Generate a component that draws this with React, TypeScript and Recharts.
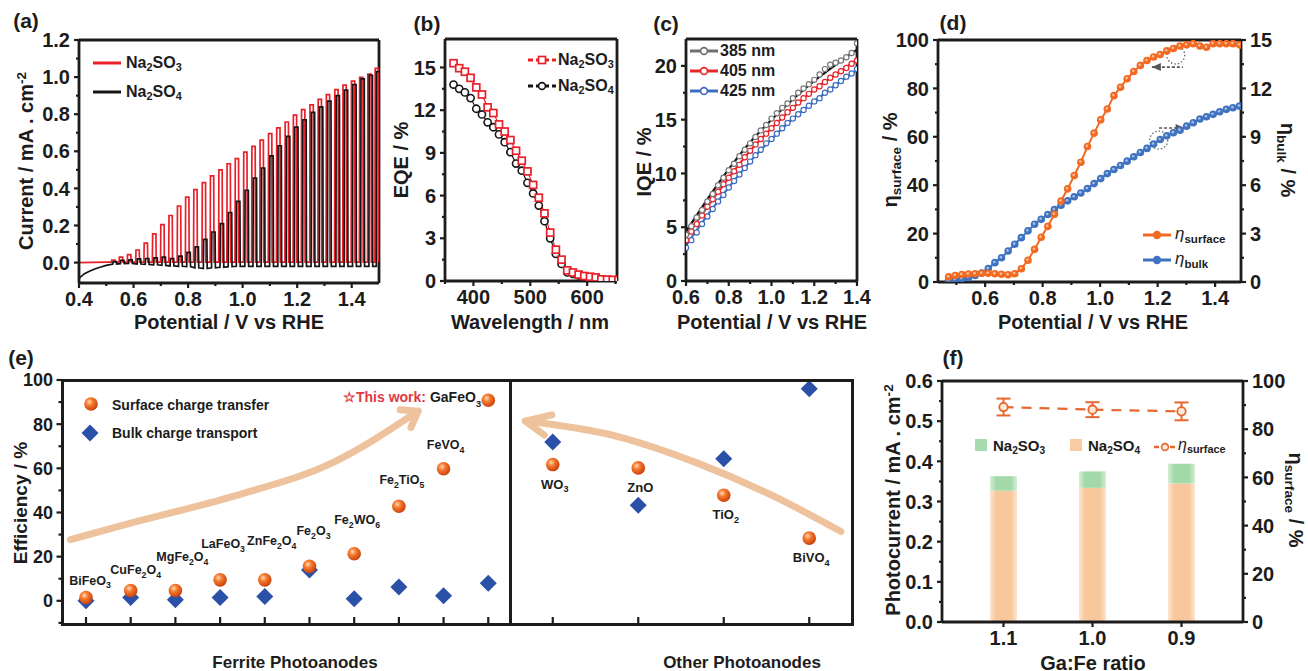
import React from "react";
import {
  LineChart,
  Line,
  XAxis,
  YAxis,
  ReferenceLine,
  ReferenceDot,
  ComposedChart,
  Bar,
  ErrorBar,
} from "recharts";

const FONT = '"Liberation Sans", Arial, Helvetica, sans-serif';
const INK = "#1c1c1c";
const AX = { stroke: INK, strokeWidth: 2.8 };

// ---------- (a) chopped photocurrent ----------
const chopOn = [0.519, 0.547, 0.577, 0.608, 0.638, 0.669, 0.699, 0.729, 0.76, 0.79, 0.82, 0.851, 0.881, 0.912, 0.942, 0.972, 1.003, 1.033, 1.063, 1.094, 1.124, 1.155, 1.185, 1.215, 1.246, 1.276, 1.306, 1.337, 1.367, 1.398, 1.428, 1.458, 1.485];
const peakSO3 = [0.014, 0.03, 0.043, 0.068, 0.105, 0.155, 0.205, 0.254, 0.305, 0.353, 0.393, 0.431, 0.467, 0.5, 0.533, 0.56, 0.596, 0.627, 0.66, 0.695, 0.726, 0.758, 0.795, 0.825, 0.85, 0.88, 0.906, 0.933, 0.957, 0.978, 0.998, 1.016, 1.047];
const peakSO4 = [0.005, 0.012, 0.015, 0.02, 0.022, 0.025, 0.03, 0.022, 0.035, 0.055, 0.085, 0.125, 0.165, 0.21, 0.27, 0.33, 0.39, 0.455, 0.51, 0.575, 0.63, 0.68, 0.73, 0.77, 0.81, 0.84, 0.87, 0.9, 0.93, 0.96, 0.99, 1.01, 1.03];
const darkSO4 = [-0.008, -0.006, -0.005, -0.008, -0.01, -0.012, -0.015, -0.018, -0.02, -0.022, -0.028, -0.032, -0.028, -0.025, -0.022, -0.02, -0.02, -0.02, -0.02, -0.02, -0.02, -0.02, -0.02, -0.02, -0.02, -0.02, -0.02, -0.02, -0.02, -0.02, -0.02, -0.02, -0.02];
const darkSO3 = 0.002;
const leadSO3: [number, number][] = [[0.4, 0.0], [0.45, 0.001], [0.5, 0.002]];
const leadSO4: [number, number][] = [[0.4, -0.085], [0.42, -0.06], [0.44, -0.045], [0.46, -0.033], [0.48, -0.024], [0.5, -0.015]];

// ---------- (b) EQE ----------
const wavelength = [365, 375, 385, 395, 405, 415, 425, 435, 445, 455, 465, 475, 485, 495, 505, 515, 525, 535, 545, 555, 565, 575, 585, 595, 605, 615, 625, 635, 645, 655, 665];
const eqeSO3 = [15.3, 14.95, 14.7, 14.27, 13.6, 13.1, 12.2, 11.8, 11.0, 10.5, 9.9, 9.15, 8.45, 7.7, 6.75, 5.85, 4.75, 3.4, 2.2, 1.5, 0.75, 0.6, 0.45, 0.35, 0.3, 0.25, 0.12, 0.1, 0.08, 0.06, 0.04];
const eqeSO4 = [13.8, 13.5, 13.25, 12.85, 12.1, 11.7, 11.15, 10.8, 10.3, 9.75, 9.05, 8.25, 7.75, 6.9, 6.15, 5.3, 4.2, 3.0, 1.9, 1.2, 0.6, 0.5, 0.4, 0.3, 0.25, 0.18, 0.08, 0.05, 0.04, 0.03, 0.02];

// ---------- (c) IQE ----------
const cPot = [0.6, 0.625, 0.65, 0.675, 0.7, 0.725, 0.75, 0.775, 0.8, 0.825, 0.85, 0.875, 0.9, 0.925, 0.95, 0.975, 1.0, 1.025, 1.05, 1.075, 1.1, 1.125, 1.15, 1.175, 1.2, 1.225, 1.25, 1.275, 1.3, 1.325, 1.35, 1.375, 1.4];
const iqe385 = [4.3, 5.1, 5.9, 6.6, 7.4, 8.1, 8.9, 9.6, 10.3, 10.9, 11.6, 12.2, 12.8, 13.4, 14.0, 14.5, 15.1, 15.6, 16.1, 16.5, 17.0, 17.5, 17.9, 18.3, 18.7, 19.2, 19.7, 20.1, 20.3, 20.5, 20.8, 21.2, 22.1];
const iqe405 = [3.8, 4.6, 5.3, 6.1, 6.9, 7.6, 8.3, 9.0, 9.6, 10.2, 10.8, 11.5, 12.1, 12.7, 13.2, 13.7, 14.2, 14.7, 15.2, 15.7, 16.1, 16.6, 17.0, 17.4, 17.8, 18.1, 18.5, 18.9, 19.2, 19.5, 19.8, 20.2, 20.5];
const iqe425 = [3.1, 3.8, 4.5, 5.3, 6.0, 6.7, 7.4, 8.0, 8.7, 9.3, 9.9, 10.5, 11.1, 11.7, 12.2, 12.8, 13.2, 13.7, 14.2, 14.7, 15.1, 15.5, 15.9, 16.3, 16.7, 17.0, 17.5, 17.8, 18.2, 18.6, 19.0, 19.3, 19.7];
const fitPot = [0.6, 0.7, 0.8, 0.9, 1.0, 1.1, 1.2, 1.3, 1.4];
const fit385 = [4.6, 7.6, 10.4, 12.9, 15.0, 16.9, 18.6, 20.1, 21.5];
const fit405 = [4.0, 6.9, 9.6, 12.1, 14.2, 16.1, 17.8, 19.2, 20.6];
const fit425 = [3.3, 6.1, 8.7, 11.1, 13.2, 15.1, 16.7, 18.2, 19.6];

// ---------- (d) efficiencies ----------
const dPot = [0.473, 0.496, 0.519, 0.542, 0.565, 0.588, 0.611, 0.634, 0.657, 0.68, 0.703, 0.726, 0.749, 0.772, 0.795, 0.818, 0.841, 0.864, 0.887, 0.91, 0.933, 0.956, 0.979, 1.002, 1.025, 1.048, 1.071, 1.094, 1.117, 1.14, 1.163, 1.186, 1.209, 1.232, 1.255, 1.278, 1.301, 1.324, 1.347, 1.37, 1.393, 1.416, 1.439, 1.462, 1.485];
const etaSurface = [2.1, 2.7, 3.1, 3.3, 3.4, 3.6, 3.6, 3.4, 3.2, 3.0, 3.4, 5.5, 9.0, 13.5, 18.5, 23.0, 28.0, 33.5, 38.5, 44.0, 49.5, 56.0, 61.5, 67.0, 71.5, 77.0, 80.5, 84.0, 87.0, 89.5, 91.5, 93.0, 94.0, 95.5, 96.5, 97.5, 98.0, 98.5, 97.5, 97.0, 98.5, 98.5, 98.5, 98.5, 98.0];
const etaBulk = [0.1, 0.15, 0.2, 0.27, 0.41, 0.56, 0.83, 1.2, 1.5, 1.92, 2.34, 2.75, 3.17, 3.58, 3.89, 4.18, 4.49, 4.76, 5.03, 5.28, 5.52, 5.79, 6.1, 6.41, 6.72, 6.97, 7.22, 7.49, 7.76, 8.03, 8.28, 8.55, 8.83, 9.06, 9.25, 9.41, 9.66, 9.87, 10.1, 10.24, 10.39, 10.55, 10.7, 10.8, 10.9];

// ---------- (e) literature comparison ----------
const ferriteNames = ["BiFeO3", "CuFe2O4", "MgFe2O4", "LaFeO3", "ZnFe2O4", "Fe2O3", "Fe2WO6", "Fe2TiO5", "FeVO4", "GaFeO3"];
const ferriteSurface = [1.5, 4.7, 4.7, 9.5, 9.5, 15.6, 21.3, 42.8, 59.8, 90.8];
const ferriteBulk = [0, 1.5, 0.5, 1.5, 2.0, 14.0, 0.9, 6.2, 2.3, 8.0];
const otherNames = ["WO3", "ZnO", "TiO2", "BiVO4"];
const otherSurface = [61.7, 60.2, 47.8, 28.4];
const otherBulk = [71.9, 43.3, 64.3, 96];
const effTicks = [-10, 0, 10, 20, 30, 40, 50, 60, 70, 80, 90, 100];
const effMajor = [0, 20, 40, 60, 80, 100];

// ---------- (f) Ga:Fe ratio ----------
const ratios = ["1.1", "1.0", "0.9"];
const photoSO3 = [0.363, 0.375, 0.394];
const photoSO4 = [0.327, 0.334, 0.345];
const etaRatio = [89.2, 88.1, 87.4];
const etaRatioErr = [3.5, 3.1, 3.7];

// ---------- helpers ----------
const f1 = (v: number) => Number(v).toFixed(1);
const f0 = (v: number) => String(Math.round(Number(v)));
const fs = (v: any) => String(v);

type Side = "bottom" | "left" | "right";
type TickOpt = { len?: number; minor?: number; gap?: number; inward?: boolean; labels?: boolean; lines?: boolean };

function tickFn(side: Side, major: Array<number | string>, fmt: (v: any) => string, size: number, o: TickOpt = {}) {
  const len = o.len ?? 5;
  const minorLen = o.minor ?? 3;
  const gap = o.gap ?? 4;
  const dir = o.inward ? -1 : 1;
  const show = o.labels !== false;
  const lines = o.lines !== false;
  return (p: any) => {
    const x = p.x;
    const y = p.y;
    const v = p.payload?.value;
    const isMajor = major.some((m) => (typeof m === "number" ? Math.abs(m - Number(v)) < 1e-9 : m === v));
    const L = isMajor ? len : minorLen;
    const txt = { fontFamily: FONT, fontWeight: 700, fontSize: size, fill: INK };
    if (side === "bottom") {
      return (
        <g>
          {lines ? <line x1={x} y1={y} x2={x} y2={y + dir * L} stroke={INK} strokeWidth={2.2} /> : null}
          {isMajor && show ? (
            <text x={x} y={y + len + gap} dy="0.72em" textAnchor="middle" {...txt}>
              {fmt(v)}
            </text>
          ) : null}
        </g>
      );
    }
    if (side === "left") {
      return (
        <g>
          {lines ? <line x1={x} y1={y} x2={x - dir * L} y2={y} stroke={INK} strokeWidth={2.2} /> : null}
          {isMajor && show ? (
            <text x={x - len - gap} y={y} dy="0.36em" textAnchor="end" {...txt}>
              {fmt(v)}
            </text>
          ) : null}
        </g>
      );
    }
    return (
      <g>
        {lines ? <line x1={x} y1={y} x2={x + dir * L} y2={y} stroke={INK} strokeWidth={2.2} /> : null}
        {isMajor && show ? (
          <text x={x + len + gap} y={y} dy="0.36em" textAnchor="start" {...txt}>
            {fmt(v)}
          </text>
        ) : null}
      </g>
    );
  };
}

const axisBase = { tickLine: false, tickSize: 0, tickMargin: 0, axisLine: AX, interval: 0 as const, allowDataOverflow: true };

function Txt({ x, y, size = 20, rot = 0, align = "center", color = INK, children }: any) {
  const tx = align === "center" ? "-50%" : align === "right" ? "-100%" : "0%";
  return (
    <div
      style={{
        position: "absolute",
        left: x,
        top: y,
        transform: `translate(${tx}, -50%) rotate(${rot}deg)`,
        fontFamily: FONT,
        fontSize: size,
        fontWeight: 700,
        color,
        whiteSpace: "nowrap",
        lineHeight: 1,
      }}
    >
      {children}
    </div>
  );
}
const Sub = ({ children }: any) => <span style={{ fontSize: "0.68em", position: "relative", top: "0.32em" }}>{children}</span>;
const Sup = ({ children }: any) => <span style={{ fontSize: "0.68em", position: "relative", top: "-0.55em" }}>{children}</span>;
const Eta = ({ sub, italic = false }: { sub: string; italic?: boolean }) => (
  <span>
    <span style={{ fontStyle: italic ? "italic" : "normal", fontWeight: italic ? 400 : 700 }}>η</span>
    <Sub>{sub}</Sub>
  </span>
);
const Chem = ({ f }: { f: string }) => (
  <span>{(f.match(/\d+|\D+/g) || []).map((s, i) => (/\d/.test(s) ? <Sub key={i}>{s}</Sub> : <span key={i}>{s}</span>))}</span>
);

function svgChem(text: string, size: number) {
  const parts = text.match(/\d+|\D+/g) || [];
  let down = false;
  return parts.map((s, i) => {
    const isNum = /\d/.test(s);
    const dy = isNum ? size * 0.3 : down ? -size * 0.3 : 0;
    down = isNum;
    return (
      <tspan key={i} dy={dy} fontSize={isNum ? size * 0.7 : size}>
        {s}
      </tspan>
    );
  });
}

function chopTrace(on: number[], peak: number[], dark: number[] | number, lead: [number, number][], shift: number) {
  const pts = lead.map(([v, c]) => ({ v, c }));
  on.forEach((t, i) => {
    const d = Array.isArray(dark) ? dark[i] : dark;
    const s = t + shift;
    pts.push({ v: s, c: d }, { v: s + 0.001, c: peak[i] }, { v: s + 0.013, c: peak[i] }, { v: s + 0.014, c: d });
  });
  return pts;
}

// ---------- panels ----------
function PanelA() {
  const red = chopTrace(chopOn, peakSO3, darkSO3, leadSO3, 0);
  const black = chopTrace(chopOn, peakSO4, darkSO4, leadSO4, 0.005);
  const xt = [0.4, 0.5, 0.6, 0.7, 0.8, 0.9, 1.0, 1.1, 1.2, 1.3, 1.4];
  const yt = [0, 0.1, 0.2, 0.3, 0.4, 0.5, 0.6, 0.7, 0.8, 0.9, 1.0, 1.1, 1.2];
  return (
    <div style={{ position: "absolute", left: 19, top: 30 }}>
      <LineChart width={370} height={293} margin={{ top: 10, right: 10, bottom: 0, left: 0 }}>
        <XAxis type="number" dataKey="v" domain={[0.4, 1.5]} ticks={xt} height={40} tick={tickFn("bottom", [0.4, 0.6, 0.8, 1.0, 1.2, 1.4], f1, 20)} {...axisBase} />
        <YAxis type="number" domain={[-0.11, 1.2]} ticks={yt} width={60} tick={tickFn("left", [0, 0.2, 0.4, 0.6, 0.8, 1.0, 1.2], f1, 20)} {...axisBase} />
        <ReferenceLine y={1.2} stroke={INK} strokeWidth={2.8} />
        <ReferenceLine x={1.5} stroke={INK} strokeWidth={2.8} />
        <Line data={red} dataKey="c" type="linear" stroke="#e8202a" strokeWidth={1.7} dot={false} isAnimationActive={false} />
        <Line data={black} dataKey="c" type="linear" stroke="#151515" strokeWidth={1.7} dot={false} isAnimationActive={false} />
      </LineChart>
    </div>
  );
}

function PanelB() {
  const so3 = wavelength.map((w, i) => ({ w, e: eqeSO3[i] }));
  const so4 = wavelength.map((w, i) => ({ w, e: eqeSO4[i] }));
  return (
    <div style={{ position: "absolute", left: 395, top: 29 }}>
      <LineChart width={232} height={292} margin={{ top: 10, right: 10, bottom: 0, left: 0 }}>
        <XAxis type="number" dataKey="w" domain={[350, 652.5]} ticks={[350, 400, 450, 500, 550, 600, 650]} height={40} tick={tickFn("bottom", [400, 500, 600], f0, 20)} {...axisBase} />
        <YAxis type="number" domain={[0, 17]} ticks={[0, 1.5, 3, 4.5, 6, 7.5, 9, 10.5, 12, 13.5, 15]} width={50} tick={tickFn("left", [0, 3, 6, 9, 12, 15], f0, 20)} {...axisBase} />
        <ReferenceLine y={17} stroke={INK} strokeWidth={2.8} />
        <ReferenceLine x={652.5} stroke={INK} strokeWidth={2.8} />
        <Line
          data={so4}
          dataKey="e"
          stroke="#151515"
          strokeWidth={1.2}
          isAnimationActive={false}
          dot={(p: any) => <circle key={`b4${p.index}`} cx={p.cx} cy={p.cy} r={3.6} fill="#fff" stroke="#151515" strokeWidth={1.6} />}
        />
        <Line
          data={so3}
          dataKey="e"
          stroke="#e8202a"
          strokeWidth={1.2}
          isAnimationActive={false}
          dot={(p: any) => <rect key={`b3${p.index}`} x={p.cx - 3.5} y={p.cy - 3.5} width={7} height={7} fill="#fff" stroke="#e8202a" strokeWidth={1.7} />}
        />
      </LineChart>
    </div>
  );
}

function PanelC() {
  const mk = (vals: number[]) => cPot.map((v, i) => ({ v, q: vals[i] }));
  const fk = (vals: number[]) => fitPot.map((v, i) => ({ v, q: vals[i] }));
  const open = (color: string, id: string) => (p: any) => <circle key={`${id}${p.index}`} cx={p.cx} cy={p.cy} r={2.6} fill="#fff" stroke={color} strokeWidth={1.2} />;
  return (
    <div style={{ position: "absolute", left: 636, top: 29 }}>
      <LineChart width={251} height={292} margin={{ top: 10, right: 30, bottom: 0, left: 0 }}>
        <XAxis type="number" dataKey="v" domain={[0.6, 1.4]} ticks={[0.6, 0.7, 0.8, 0.9, 1.0, 1.1, 1.2, 1.3, 1.4]} height={40} tick={tickFn("bottom", [0.6, 0.8, 1.0, 1.2, 1.4], f1, 20)} {...axisBase} />
        <YAxis type="number" domain={[0, 22.5]} ticks={[0, 2.5, 5, 7.5, 10, 12.5, 15, 17.5, 20]} width={50} tick={tickFn("left", [0, 5, 10, 15, 20], f0, 20)} {...axisBase} />
        <ReferenceLine y={22.5} stroke={INK} strokeWidth={2.8} />
        <ReferenceLine x={1.4} stroke={INK} strokeWidth={2.8} />
        <Line data={mk(iqe425)} dataKey="q" stroke="none" isAnimationActive={false} dot={open("#3d6cc0", "c5")} />
        <Line data={mk(iqe405)} dataKey="q" stroke="none" isAnimationActive={false} dot={open("#e8262b", "c4")} />
        <Line data={mk(iqe385)} dataKey="q" stroke="none" isAnimationActive={false} dot={open("#7a7a7a", "c3")} />
        <Line data={fk(fit425)} dataKey="q" type="monotone" stroke="#3d6cc0" strokeWidth={2.2} dot={false} isAnimationActive={false} />
        <Line data={fk(fit405)} dataKey="q" type="monotone" stroke="#e8262b" strokeWidth={2.2} dot={false} isAnimationActive={false} />
        <Line data={fk(fit385)} dataKey="q" type="monotone" stroke="#111" strokeWidth={2.2} dot={false} isAnimationActive={false} />
      </LineChart>
    </div>
  );
}

const dArrowSurf = [{ v: 1.18, s: 88.8 }, { v: 1.288, s: 88.8 }];
const dArrowBulk = [{ v: 1.205, b: 9.55 }, { v: 1.294, b: 9.55 }];

function PanelD() {
  const surf = dPot.map((v, i) => ({ v, s: etaSurface[i] }));
  const bulk = dPot.map((v, i) => ({ v, b: etaBulk[i] }));
  const ball = (fill: string, id: string) => (p: any) => (
    <g key={`${id}${p.index}`}>
      <circle cx={p.cx} cy={p.cy} r={3.8} fill={fill} />
      <circle cx={p.cx - 0.6} cy={p.cy - 0.6} r={1.3} fill="#fff" opacity={0.55} />
    </g>
  );
  const head = (dir: number, id: string) => (p: any) =>
    p.index === (dir < 0 ? 0 : 1) ? (
      <path key={`${id}${p.index}`} d={`M${p.cx} ${p.cy} l${-dir * 9} -4 l0 8 z`} fill="#555" />
    ) : (
      <g key={`${id}${p.index}`} />
    );
  return (
    <div style={{ position: "absolute", left: 878, top: 30 }}>
      <LineChart width={413} height={292} margin={{ top: 10, right: 0, bottom: 0, left: 0 }}>
        <XAxis type="number" dataKey="v" domain={[0.436, 1.49]} ticks={[0.5, 0.6, 0.7, 0.8, 0.9, 1.0, 1.1, 1.2, 1.3, 1.4]} height={40} tick={tickFn("bottom", [0.6, 0.8, 1.0, 1.2, 1.4], f1, 20)} {...axisBase} />
        <YAxis yAxisId="l" type="number" domain={[0, 100]} ticks={[0, 10, 20, 30, 40, 50, 60, 70, 80, 90, 100]} width={60} tick={tickFn("left", [0, 20, 40, 60, 80, 100], f0, 20)} {...axisBase} />
        <YAxis yAxisId="r" orientation="right" type="number" domain={[0, 15]} ticks={[0, 1.5, 3, 4.5, 6, 7.5, 9, 10.5, 12, 13.5, 15]} width={50} tick={tickFn("right", [0, 3, 6, 9, 12, 15], f0, 20)} {...axisBase} />
        <ReferenceLine yAxisId="l" y={100} stroke={INK} strokeWidth={2.8} />
        <ReferenceDot yAxisId="l" x={1.263} y={93.8} r={9} fill="none" stroke="#666" strokeWidth={1.3} strokeDasharray="1.5 2" />
        <ReferenceDot yAxisId="r" x={1.204} y={8.8} r={9} fill="none" stroke="#666" strokeWidth={1.3} strokeDasharray="1.5 2" />
        <Line yAxisId="l" data={dArrowSurf} dataKey="s" stroke="#555" strokeWidth={1.6} strokeDasharray="3 2" isAnimationActive={false} dot={head(-1, "ha")} />
        <Line yAxisId="r" data={dArrowBulk} dataKey="b" stroke="#555" strokeWidth={1.6} strokeDasharray="3 2" isAnimationActive={false} dot={head(1, "hb")} />
        <Line yAxisId="r" data={bulk} dataKey="b" stroke="#3f72c1" strokeWidth={2} isAnimationActive={false} dot={ball("#3f72c1", "db")} />
        <Line yAxisId="l" data={surf} dataKey="s" stroke="#f26a22" strokeWidth={2} isAnimationActive={false} dot={ball("#f26a22", "ds")} />
      </LineChart>
    </div>
  );
}

// (e) decorative arrows, in data units of each sub-panel
const ferriteArrow = [{ x: 0.65, y: 27.7 }, { x: 2.06, y: 35.5 }, { x: 4.29, y: 47.3 }, { x: 6.53, y: 62.7 }, { x: 8.43, y: 85.9 }];
const ferriteHead = [{ x: 8.03, y: 86.5 }, { x: 8.43, y: 85.9 }, { x: 8.27, y: 78.5 }];
const otherArrow = [{ x: 0.68, y: 81.4 }, { x: 1.75, y: 74.5 }, { x: 2.67, y: 62.7 }, { x: 3.59, y: 47.3 }, { x: 4.37, y: 31.4 }];
const otherHead = [{ x: 0.9, y: 75.1 }, { x: 0.68, y: 81.4 }, { x: 0.99, y: 84.2 }];

const labelLift: Record<string, [number, number]> = {
  BiFeO3: [4, -13],
  CuFe2O4: [5, -16],
  MgFe2O4: [7, -29],
  LaFeO3: [3, -32],
  ZnFe2O4: [7, -35],
  Fe2O3: [4, -31],
  Fe2WO6: [3, -30],
  Fe2TiO5: [3, -22],
  FeVO4: [2, -20],
};

function ballDot(below: boolean, id: string, grad: string) {
  return (p: any) => {
    const { cx, cy, payload } = p;
    const name: string = payload.name;
    let label: React.ReactNode = null;
    if (name === "GaFeO3") {
      label = (
        <text x={cx - 7} y={cy + 2} textAnchor="end" fontFamily={FONT} fontWeight={700} fontSize={14} fill={INK}>
          <tspan fill="#e03a44">☆This work: </tspan>
          {svgChem(name, 14)}
        </text>
      );
    } else if (below) {
      label = (
        <text x={cx + 2} y={cy + 24} textAnchor="middle" fontFamily={FONT} fontWeight={700} fontSize={13} fill={INK}>
          {svgChem(name, 13)}
        </text>
      );
    } else {
      const [dx, dy] = labelLift[name] ?? [4, -24];
      label = (
        <text x={cx + dx} y={cy + dy} textAnchor="middle" fontFamily={FONT} fontWeight={700} fontSize={12.5} fill={INK}>
          {svgChem(name, 12.5)}
        </text>
      );
    }
    return (
      <g key={`${id}${p.index}`}>
        <circle cx={cx} cy={cy} r={6.8} fill={`url(#${grad})`} />
        {label}
      </g>
    );
  };
}
const diamondDot = (id: string) => (p: any) => (
  <path key={`${id}${p.index}`} d={`M${p.cx} ${p.cy - 8.5} L${p.cx + 8.5} ${p.cy} L${p.cx} ${p.cy + 8.5} L${p.cx - 8.5} ${p.cy} Z`} fill="#2b50a8" />
);
// tick marks of panel (e), drawn as marks anchored through the axis scales
const vTick = (id: string, len: number) => (p: any) => <line key={`${id}${p.index}`} x1={p.cx} y1={p.cy} x2={p.cx} y2={p.cy - len} stroke={INK} strokeWidth={2.2} />;
const hTick = (id: string) => (p: any) => {
  const major = effMajor.includes(p.payload.y);
  return <line key={`${id}${p.index}`} x1={p.cx} y1={p.cy} x2={p.cx - (major ? 5.5 : 3.5)} y2={p.cy} stroke={INK} strokeWidth={2.2} />;
};

function GradBall({ id }: { id: string }) {
  return (
    <radialGradient id={id} cx="38%" cy="35%" r="65%">
      <stop offset="0%" stopColor="#ffd9b8" />
      <stop offset="40%" stopColor="#f5792e" />
      <stop offset="100%" stopColor="#c9430c" />
    </radialGradient>
  );
}

function PanelE() {
  const fS = ferriteNames.map((name, i) => ({ x: i + 1, y: ferriteSurface[i], name }));
  const fB = ferriteNames.map((name, i) => ({ x: i + 1, y: ferriteBulk[i], name }));
  const oS = otherNames.map((name, i) => ({ x: i + 1, y: otherSurface[i], name }));
  const oB = otherNames.map((name, i) => ({ x: i + 1, y: otherBulk[i], name }));
  const fXT = ferriteNames.map((_, i) => ({ x: i + 1, y: -10.5 }));
  const oXT = otherNames.map((_, i) => ({ x: i + 1, y: -10.5 }));
  const fYT = effTicks.map((t) => ({ x: 0.463, y: t }));
  const arrowProps = { stroke: "#efc29e", strokeWidth: 7, strokeLinecap: "round" as const, strokeLinejoin: "round" as const, dot: false, isAnimationActive: false, dataKey: "y" };
  const eAxis = { tickLine: false, tickSize: 0, tickMargin: 0, axisLine: false, interval: 0 as const };
  return (
    <>
      <div style={{ position: "absolute", left: 10, top: 370 }}>
        <LineChart width={500} height={264} margin={{ top: 10, right: 0, bottom: 0, left: 0 }}>
          <defs>
            <GradBall id="ballG" />
          </defs>
          <XAxis type="number" dataKey="x" domain={[0.463, 10.486]} ticks={[1, 2, 3, 4, 5, 6, 7, 8, 9, 10]} height={10} tick={false} {...eAxis} />
          <YAxis type="number" domain={[-10.5, 100]} ticks={effTicks} width={52} tick={tickFn("left", effMajor, f0, 18, { len: 5, gap: 4, lines: false })} {...eAxis} />
          <Line data={ferriteArrow} type="monotone" {...arrowProps} />
          <Line data={ferriteHead} type="linear" {...arrowProps} />
          <Line data={fXT} dataKey="y" stroke="none" isAnimationActive={false} dot={vTick("fx", 7)} />
          <Line data={fYT} dataKey="y" stroke="none" isAnimationActive={false} dot={hTick("fy")} />
          <Line data={fB} dataKey="y" stroke="none" isAnimationActive={false} dot={diamondDot("fb")} />
          <Line data={fS} dataKey="y" stroke="none" isAnimationActive={false} dot={ballDot(false, "fs", "ballG")} />
        </LineChart>
      </div>
      <div style={{ position: "absolute", left: 510, top: 370 }}>
        <LineChart width={352} height={264} margin={{ top: 10, right: 10, bottom: 0, left: 0 }}>
          <defs>
            <GradBall id="ballG2" />
          </defs>
          <XAxis type="number" dataKey="x" domain={[0.5, 4.5]} ticks={[1, 2, 3, 4]} height={10} tick={false} {...eAxis} />
          <YAxis type="number" domain={[-10.5, 100]} hide />
          <Line data={otherArrow} type="monotone" {...arrowProps} />
          <Line data={otherHead} type="linear" {...arrowProps} />
          <Line data={oXT} dataKey="y" stroke="none" isAnimationActive={false} dot={vTick("ox", 7)} />
          <Line data={oB} dataKey="y" stroke="none" isAnimationActive={false} dot={diamondDot("ob")} />
          <Line data={oS} dataKey="y" stroke="none" isAnimationActive={false} dot={ballDot(true, "os", "ballG2")} />
        </LineChart>
      </div>
      {/* frame of the two sub-panels */}
      <div style={{ position: "absolute", left: 60.5, top: 378.5, width: 793, height: 247, border: `3px solid ${INK}`, boxSizing: "border-box", pointerEvents: "none" }} />
      <div style={{ position: "absolute", left: 508.5, top: 380, width: 3, height: 244, background: INK, pointerEvents: "none" }} />
    </>
  );
}

function PanelF() {
  const rows = ratios.map((r, i) => ({
    r,
    base: photoSO4[i],
    extra: photoSO3[i] - photoSO4[i],
    eta: etaRatio[i],
    err: etaRatioErr[i],
  }));
  return (
    <div style={{ position: "absolute", left: 880, top: 371 }}>
      <ComposedChart width={413} height={291} data={rows} margin={{ top: 10, right: 0, bottom: 0, left: 0 }}>
        <defs>
          <linearGradient id="gOr" x1="0" y1="0" x2="1" y2="0">
            <stop offset="0%" stopColor="#fde5d0" />
            <stop offset="22%" stopColor="#f8c89c" />
            <stop offset="78%" stopColor="#f8c89c" />
            <stop offset="100%" stopColor="#fde5d0" />
          </linearGradient>
          <linearGradient id="gGr" x1="0" y1="0" x2="1" y2="0">
            <stop offset="0%" stopColor="#d4efd6" />
            <stop offset="22%" stopColor="#a3d9a9" />
            <stop offset="78%" stopColor="#a3d9a9" />
            <stop offset="100%" stopColor="#d4efd6" />
          </linearGradient>
        </defs>
        <XAxis dataKey="r" type="category" padding={{ left: 17, right: 17 }} height={40} tick={tickFn("bottom", ratios, fs, 20)} {...axisBase} allowDataOverflow={false} />
        <YAxis yAxisId="l" type="number" domain={[0, 0.6]} ticks={[0, 0.05, 0.1, 0.15, 0.2, 0.25, 0.3, 0.35, 0.4, 0.45, 0.5, 0.55, 0.6]} width={62} tick={tickFn("left", [0, 0.1, 0.2, 0.3, 0.4, 0.5, 0.6], f1, 20)} {...axisBase} />
        <YAxis yAxisId="r" orientation="right" type="number" domain={[0, 100]} ticks={[0, 10, 20, 30, 40, 50, 60, 70, 80, 90, 100]} width={50} tick={tickFn("right", [0, 20, 40, 60, 80, 100], f0, 20)} {...axisBase} />
        <ReferenceLine yAxisId="l" y={0.6} stroke={INK} strokeWidth={2.8} />
        <Bar yAxisId="l" dataKey="base" stackId="s" fill="url(#gOr)" barSize={27} isAnimationActive={false} />
        <Bar yAxisId="l" dataKey="extra" stackId="s" fill="url(#gGr)" barSize={27} isAnimationActive={false} />
        <Line
          yAxisId="r"
          dataKey="eta"
          stroke="#e5672d"
          strokeWidth={2.2}
          strokeDasharray="10 8"
          isAnimationActive={false}
          dot={(p: any) => <circle key={`fe${p.index}`} cx={p.cx} cy={p.cy} r={4.2} fill="#fde8da" stroke="#e5672d" strokeWidth={1.8} />}
        >
          <ErrorBar dataKey="err" width={7} stroke="#e5672d" strokeWidth={2} direction="y" />
        </Line>
      </ComposedChart>
    </div>
  );
}

// ---------- legends ----------
function LegLine({ color, marker, dash }: { color: string; marker?: "sq" | "ci" | "ball"; dash?: string }) {
  return (
    <svg width={28} height={12} style={{ display: "block" }}>
      <line x1={0} y1={6} x2={28} y2={6} stroke={color} strokeWidth={3} strokeDasharray={dash} />
      {marker === "sq" && <rect x={10.5} y={2.5} width={7} height={7} fill="#fff" stroke={color} strokeWidth={1.7} />}
      {marker === "ci" && <circle cx={14} cy={6} r={3.4} fill="#fff" stroke={color} strokeWidth={1.6} />}
      {marker === "ball" && <circle cx={14} cy={6} r={4.2} fill={color} />}
    </svg>
  );
}
const Abs = ({ x, y, children }: any) => (
  <div style={{ position: "absolute", left: x, top: y, transform: "translateY(-50%)" }}>{children}</div>
);

export default function App() {
  return (
    <div style={{ position: "absolute", left: 0, top: 0, width: 1308, height: 671, background: "#fff", overflow: "hidden", fontFamily: FONT }}>
      <PanelA />
      <PanelB />
      <PanelC />
      <PanelD />
      <PanelE />
      <PanelF />

      {/* panel letters */}
      <Txt x={26} y={20} size={21}>(a)</Txt>
      <Txt x={427} y={23} size={21}>(b)</Txt>
      <Txt x={666} y={23} size={21}>(c)</Txt>
      <Txt x={953} y={22} size={21}>(d)</Txt>
      <Txt x={21} y={357} size={21}>(e)</Txt>
      <Txt x={953} y={357} size={21}>(f)</Txt>

      {/* (a) */}
      <Txt x={26} y={161} rot={-90}>
        Current / mA . cm<Sup>-2</Sup>
      </Txt>
      <Txt x={229} y={322}>Potential / V vs RHE</Txt>
      <Abs x={93} y={63}>
        <svg width={28} height={6} style={{ display: "block" }}><line x1={0} y1={3} x2={28} y2={3} stroke="#e8202a" strokeWidth={3} /></svg>
      </Abs>
      <Txt x={126} y={63} size={16} align="left"><Chem f="Na2SO3" /></Txt>
      <Abs x={93} y={92}>
        <svg width={28} height={6} style={{ display: "block" }}><line x1={0} y1={3} x2={28} y2={3} stroke="#151515" strokeWidth={3} /></svg>
      </Abs>
      <Txt x={126} y={92} size={16} align="left"><Chem f="Na2SO4" /></Txt>

      {/* (b) */}
      <Txt x={401} y={160} rot={-90}>EQE / %</Txt>
      <Txt x={530} y={322}>Wavelength / nm</Txt>
      <Abs x={528} y={60}><LegLine color="#e8202a" marker="sq" dash="5 3" /></Abs>
      <Txt x={558} y={60} size={16} align="left"><Chem f="Na2SO3" /></Txt>
      <Abs x={528} y={86}><LegLine color="#151515" marker="ci" dash="5 3" /></Abs>
      <Txt x={558} y={86} size={16} align="left"><Chem f="Na2SO4" /></Txt>

      {/* (c) */}
      <Txt x={644} y={162} rot={-90}>IQE / %</Txt>
      <Txt x={772} y={322}>Potential / V vs RHE</Txt>
      <Abs x={690} y={51}><LegLine color="#6e6e6e" marker="ci" /></Abs>
      <Txt x={720} y={51} size={16} align="left">385 nm</Txt>
      <Abs x={690} y={71}><LegLine color="#e8262b" marker="ci" /></Abs>
      <Txt x={720} y={71} size={16} align="left">405 nm</Txt>
      <Abs x={690} y={91}><LegLine color="#3d6cc0" marker="ci" /></Abs>
      <Txt x={720} y={91} size={16} align="left">425 nm</Txt>

      {/* (d) */}
      <Txt x={890} y={160} rot={-90}>
        <Eta sub="surface" /> / %
      </Txt>
      <Txt x={1288} y={160} rot={90}>
        <Eta sub="bulk" /> / %
      </Txt>
      <Txt x={1093} y={322}>Potential / V vs RHE</Txt>
      <Abs x={1143} y={235}><LegLine color="#f26a22" marker="ball" /></Abs>
      <Txt x={1175} y={233} size={17} align="left"><Eta sub="surface" italic /></Txt>
      <Abs x={1143} y={260}><LegLine color="#3f72c1" marker="ball" /></Abs>
      <Txt x={1175} y={258} size={17} align="left"><Eta sub="bulk" italic /></Txt>

      {/* (e) */}
      <Txt x={20} y={503} rot={-90} size={19}>Efficiency / %</Txt>
      <Txt x={295} y={662} size={17}>Ferrite Photoanodes</Txt>
      <Txt x={742} y={662} size={17}>Other Photoanodes</Txt>
      <Abs x={83} y={404}>
        <svg width={16} height={16} style={{ display: "block" }}>
          <defs>
            <GradBall id="ballL" />
          </defs>
          <circle cx={8} cy={8} r={6.8} fill="url(#ballL)" />
        </svg>
      </Abs>
      <Txt x={112} y={405} size={14} align="left">Surface charge transfer</Txt>
      <Abs x={81} y={433}>
        <svg width={18} height={18} style={{ display: "block" }}>
          <path d="M9 0.5 L17.5 9 L9 17.5 L0.5 9 Z" fill="#2b50a8" />
        </svg>
      </Abs>
      <Txt x={112} y={433} size={14} align="left">Bulk charge transport</Txt>

      {/* (f) */}
      <Txt x={893} y={500} rot={-90}>
        Photocurrent / mA . cm<Sup>-2</Sup>
      </Txt>
      <Txt x={1296} y={500} rot={90}>
        <Eta sub="surface" /> / %
      </Txt>
      <Txt x={1093} y={663}>Ga:Fe ratio</Txt>
      <Abs x={975} y={445}><div style={{ width: 12, height: 12, background: "#a7dbad" }} /></Abs>
      <Txt x={993} y={446} size={15} align="left"><Chem f="Na2SO3" /></Txt>
      <Abs x={1070} y={445}><div style={{ width: 12, height: 12, background: "#f8cba3" }} /></Abs>
      <Txt x={1088} y={446} size={15} align="left"><Chem f="Na2SO4" /></Txt>
      <Abs x={1154} y={447}>
        <svg width={22} height={12} style={{ display: "block" }}>
          <line x1={0} y1={6} x2={22} y2={6} stroke="#e5672d" strokeWidth={2.5} strokeDasharray="5 3" />
          <circle cx={11} cy={6} r={3.4} fill="#fde8da" stroke="#e5672d" strokeWidth={1.6} />
        </svg>
      </Abs>
      <Txt x={1178} y={445} size={16} align="left"><Eta sub="surface" italic /></Txt>
    </div>
  );
}
